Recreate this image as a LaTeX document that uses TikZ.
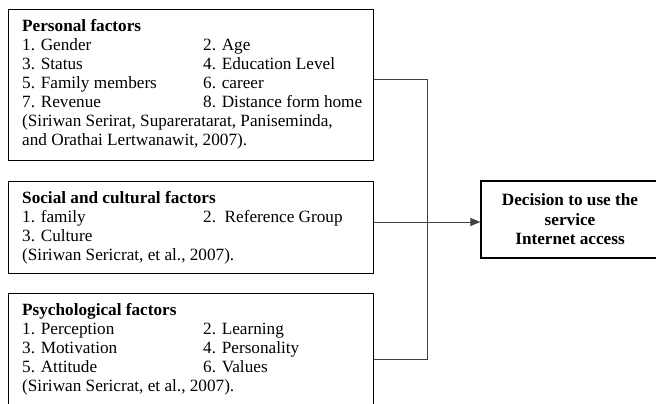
\documentclass[tikz,border=0pt]{standalone}
\usepackage{fontspec}
\setmainfont{Liberation Serif}
\usetikzlibrary{arrows.meta}
\newcommand{\fullrow}[1]{\multicolumn{2}{@{}l@{}}{#1}}
\begin{document}
\begin{tikzpicture}[x=1pt,y=-1pt,
  fbox/.style={draw=black,line width=1.3pt,anchor=north west,inner sep=0pt},
  ftext/.style={anchor=base west,inner sep=0pt,font=\fontsize{17.2}{19}\selectfont},
  conn/.style={draw=black!75,line width=0.8pt}]
\useasboundingbox (0,0) rectangle (656,404);
% boxes
\node[fbox,minimum width=365pt,minimum height=151pt] (b1) at (8,9) {};
\node[fbox,minimum width=365pt,minimum height=92pt] (b2) at (8,181) {};
\node[fbox,minimum width=365pt,minimum height=120pt] (b3) at (8,293) {};
\node[draw=black,line width=1.3pt,inner sep=0pt,minimum width=178pt,minimum height=77pt,
  align=center,font=\fontsize{17.2}{19.5}\selectfont\bfseries] (dec) at (570,219.5)
  {Decision to use the\\service\\Internet access};
% texts
\node[ftext] (t1) at (22,32) {\begin{tabular}[t]{@{}p{181pt}@{}l@{}}
\fullrow{\textbf{Personal factors}}\\
1. Gender & 2. Age\\
3. Status & 4. Education Level\\
5. Family members & 6. career\\
7. Revenue & 8. Distance form home\\
\fullrow{(Siriwan Serirat, Supareratarat, Paniseminda,}\\
\fullrow{and Orathai Lertwanawit, 2007).}
\end{tabular}};
\node[ftext] (t2) at (22,203) {\begin{tabular}[t]{@{}p{181pt}@{}l@{}}
\fullrow{\textbf{Social and cultural factors}}\\
1. family & 2.\ \ Reference Group\\
3. Culture & \\
\fullrow{(Siriwan Sericrat, et al., 2007).}
\end{tabular}};
\node[ftext] (t3) at (22,315) {\begin{tabular}[t]{@{}p{181pt}@{}l@{}}
\fullrow{\textbf{Psychological factors}}\\
1. Perception & 2. Learning\\
3. Motivation & 4. Personality\\
5. Attitude & 6. Values\\
\fullrow{(Siriwan Sericrat, et al., 2007).}
\end{tabular}};
% connectors
\coordinate (j1) at (427,79);
\coordinate (j3) at (427,359);
\coordinate (m) at (427,222);
\draw[conn] (b1.east |- j1) -- (j1) -- (j3) -- (b3.east |- j3);
\draw[conn,-{Triangle[length=10pt,width=8pt]}] (b2.east |- m) -- (dec.west |- m);
\end{tikzpicture}
\end{document}
